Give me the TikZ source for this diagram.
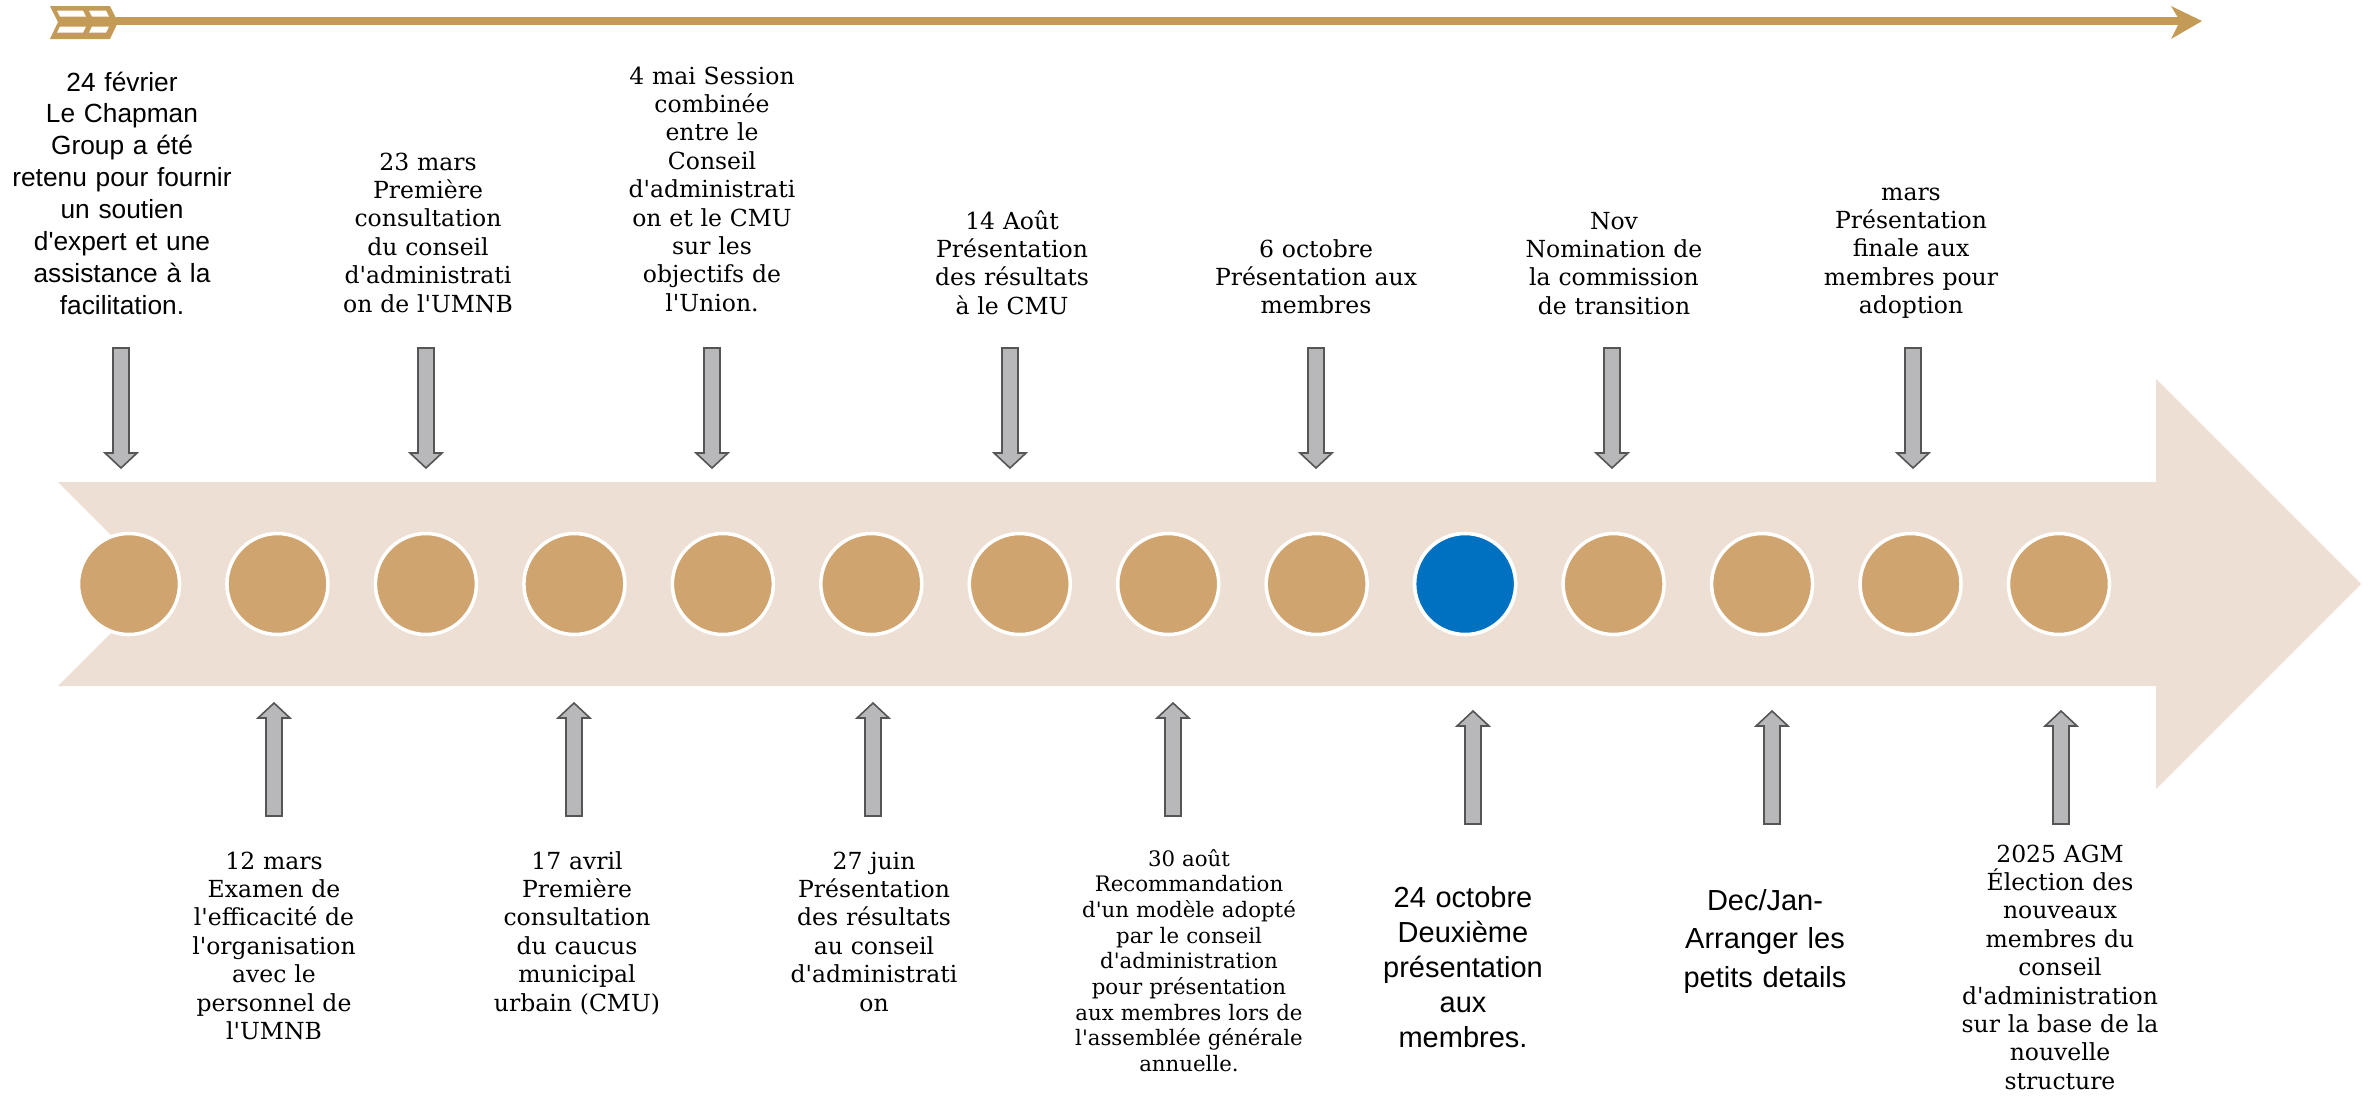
\documentclass[tikz,border=0pt]{standalone}
\usepackage{fontspec}
\setmainfont[Ligatures=TeXOff]{DejaVu Serif}
\newfontfamily\arialf[Ligatures=TeXOff]{Liberation Sans}
\definecolor{band}{HTML}{EDDFD3}
\definecolor{tan}{HTML}{CFA46F}
\definecolor{gold}{HTML}{C39A56}
\definecolor{blueA}{HTML}{0070C0}
\definecolor{arrfill}{HTML}{B8B7BA}
\definecolor{arrline}{HTML}{555555}
\tikzset{
  dot/.style={circle,fill=tan,draw=white,line width=3.5pt,minimum size=101pt,inner sep=0pt},
  arrowshape/.style={fill=arrfill,draw=arrline,line width=1.6pt,line join=miter},
  geo/.style={font=\fontsize{23.5}{28.4}\selectfont,text width=320pt,align=center,anchor=base,inner sep=0pt},
  geosmall/.style={font=\fontsize{21.3}{25.7}\selectfont,text width=320pt,align=center,anchor=base,inner sep=0pt},
  ari/.style={font=\arialf\fontsize{26.3}{31.9}\selectfont,text width=320pt,align=center,anchor=base,inner sep=0pt},
  aribig/.style={font=\arialf\fontsize{29}{35}\selectfont,text width=320pt,align=center,anchor=base,inner sep=0pt},
  downarr/.pic={\draw[arrowshape] (-8,0) -- (8,0) -- (8,105) -- (16,105) -- (0,120) -- (-16,105) -- (-8,105) -- cycle;},
  uparr/.pic={\draw[arrowshape] (0,0) -- (16,15) -- (8,15) -- (8,113) -- (-8,113) -- (-8,15) -- (-16,15) -- cycle;}
}
\begin{document}
\begin{tikzpicture}[x=1pt,y=-1pt]
\useasboundingbox (0,0) rectangle (2376,1096);
% top thin arrow
\coordinate (tailend) at (116,20.5);
\coordinate (headback) at (2182,20.5);
\draw[gold,line width=8pt] (tailend) -- (headback);
\fill[gold] (2171,6) -- (2202,21) -- (2171,39) -- (2180,21) -- cycle;
\fill[gold] (50,6) -- (110,6) -- (118,22) -- (110,39) -- (50,39) -- (58,22) -- cycle;
\fill[white] (57,10.5) -- (83,10.5) -- (86,16.5) -- (60,16.5) -- cycle;
\fill[white] (89,10.5) -- (106,10.5) -- (109,16.5) -- (92,16.5) -- cycle;
\fill[white] (60,26.5) -- (86,26.5) -- (83,32.5) -- (57,32.5) -- cycle;
\fill[white] (92,26.5) -- (109,26.5) -- (106,32.5) -- (89,32.5) -- cycle;
% big band arrow
\fill[band] (58,482) -- (2156,482) -- (2156,379) -- (2361,584) -- (2156,789) -- (2156,686) -- (58,686) -- (160,584) -- cycle;
% circles
\foreach \i in {0,...,13}{
  \node[dot] (c\i) at ({129+148.46*\i},584) {};
}
\node[dot,fill=blueA] at (c9) {};
% down arrows
\foreach \x in {121,426,712,1010,1316,1612,1913}{
  \pic at (\x,348) {downarr};
}
% up arrows
\foreach \x in {274,574,873,1173}{
  \pic at (\x,703) {uparr};
}
\foreach \x in {1473,1772,2061}{
  \pic at (\x,711) {uparr};
}
% top labels
\node[ari] (t1) at (122,91) {24 février\\Le Chapman\\Group a été\\retenu pour fournir\\un soutien\\d'expert et une\\assistance à la\\facilitation.};
\node[geo] (t2) at (428,170) {23 mars\\Première\\consultation\\du conseil\\d'administrati\\on de l'UMNB};
\node[geo] (t3) at (712,84) {4 mai Session\\combinée\\entre le\\Conseil\\d'administrati\\on et le CMU\\sur les\\objectifs de\\l'Union.};
\node[geo] (t4) at (1012,229) {14 Août\\Présentation\\des résultats\\à le CMU};
\node[geo] (t5) at (1316,257) {6 octobre\\Présentation aux\\membres};
\node[geo] (t6) at (1614,229) {Nov\\Nomination de\\la commission\\de transition};
\node[geo] (t7) at (1911,200) {mars\\Présentation\\finale aux\\membres pour\\adoption};
% bottom labels
\node[geo] (b1) at (274,869) {12 mars\\Examen de\\l'efficacité de\\l'organisation\\avec le\\personnel de\\l'UMNB};
\node[geo] (b2) at (577,869) {17 avril\\Première\\consultation\\du caucus\\municipal\\urbain (CMU)};
\node[geo] (b3) at (874,869) {27 juin\\Présentation\\des résultats\\au conseil\\d'administrati\\on};
\node[geosmall] (b4) at (1189,866) {30 août\\Recommandation\\d'un modèle adopté\\par le conseil\\d'administration\\pour présentation\\aux membres lors de\\l'assemblée générale\\annuelle.};
\node[aribig] (b5) at (1463,907) {24 octobre\\Deuxième\\présentation\\aux\\membres.};
\node[aribig,font=\arialf\fontsize{29}{38.5}\selectfont] (b6) at (1765,910) {Dec/Jan-\\Arranger les\\petits details};
\node[geo] (b7) at (2060,862) {2025 AGM\\Élection des\\nouveaux\\membres du\\conseil\\d'administration\\sur la base de la\\nouvelle\\structure};
\end{tikzpicture}
\end{document}
